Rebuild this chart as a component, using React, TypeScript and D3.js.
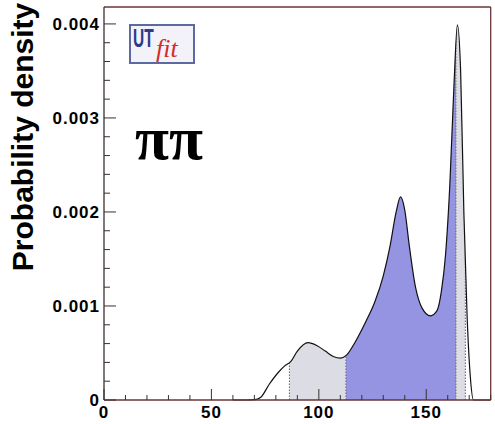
import React from "react";
import * as d3 from "d3";

const xValues = [60, 66, 70, 73, 77, 81, 84, 87, 90, 95, 99, 103, 107, 110, 113, 117, 122, 126, 130, 133, 136, 138, 140, 142, 145, 148, 152, 155, 157, 159, 161, 163, 164.5, 166, 167.5, 169, 170.5, 172, 180];
const densityValues = [0, 0, 0.000003, 0.00003, 0.00017, 0.00029, 0.00036, 0.00041, 0.00052, 0.00061, 0.00058, 0.00052, 0.00046, 0.000445, 0.00048, 0.00062, 0.00084, 0.00104, 0.00132, 0.00162, 0.002, 0.00216, 0.00202, 0.00166, 0.0012, 0.00098, 0.000895, 0.00095, 0.00115, 0.00155, 0.0023, 0.0034, 0.00399, 0.0035, 0.002, 0.0009, 0.00025, 0, 0];
const grayRegions = [[86.3, 112.6], [163.8, 168.2]];
const blueRegion = [112.6, 163.8];
const regionEdges = [86.3, 112.6, 163.8, 168.2];
const xMajorTicks = [0, 50, 100, 150];
const yMajorTicks = [0, 0.001, 0.002, 0.003, 0.004];
const yTickLabels = ["0", "0.001", "0.002", "0.003", "0.004"];

const W = 495, H = 424;
const L = 104, R = 490.7, T = 7, B = 400;

export default function App() {
  const x = d3.scaleLinear().domain([0, 180]).range([L, R]);
  const y = d3.scaleLinear().domain([0, 0.00418]).range([B, T]);
  const pts = xValues.map((v, i) => [v, densityValues[i]] as [number, number]);
  const line = d3.line<[number, number]>().x(d => x(d[0])).y(d => y(d[1])).curve(d3.curveMonotoneX);
  const area = d3.area<[number, number]>().x(d => x(d[0])).y0(y(0)).y1(d => y(d[1])).curve(d3.curveMonotoneX);
  const areaPath = area(pts) || "";
  const xMinor = d3.range(0, 181, 10);
  const yMinor = d3.range(0, 0.00418, 0.0002);
  const font = "'Liberation Sans', Arial, Helvetica, sans-serif";
  const frame = "#6a3434";
  const axisCol = "#3a3030";

  return (
    <svg width={W} height={H} style={{ position: "absolute", left: 0, top: 0, background: "#fff" }}>
      <defs>
        <clipPath id="under"><path d={areaPath} /></clipPath>
        <clipPath id="blueClip">
          <rect x={x(blueRegion[0])} y={T} width={x(blueRegion[1]) - x(blueRegion[0])} height={B - T} />
        </clipPath>
        <clipPath id="grayClip">
          {grayRegions.map((r, i) => (
            <rect key={i} x={x(r[0])} y={T} width={x(r[1]) - x(r[0])} height={B - T} />
          ))}
        </clipPath>
      </defs>
      <rect x={0} y={0} width={W} height={H} fill="#fff" />
      <path d={areaPath} fill="#dcdce5" clipPath="url(#grayClip)" />
      <path d={areaPath} fill="#9494e2" clipPath="url(#blueClip)" />
      <g clipPath="url(#under)">
        {regionEdges.map((e, i) => (
          <line key={i} x1={x(e)} x2={x(e)} y1={B} y2={T} stroke="#666" strokeWidth={1} strokeDasharray="1.5,1.5" />
        ))}
      </g>
      <path d={line(pts) || ""} fill="none" stroke="#111" strokeWidth={1.2} />
      {/* frame */}
      <line x1={L} x2={R} y1={T} y2={T} stroke={frame} strokeWidth={1.3} />
      <line x1={R} x2={R} y1={T} y2={B} stroke={frame} strokeWidth={1.3} />
      <line x1={L} x2={R} y1={B} y2={B} stroke={frame} strokeWidth={1.3} />
      <line x1={L} x2={L} y1={T} y2={B} stroke={axisCol} strokeWidth={1.3} />
      {/* x ticks */}
      {xMinor.map(t => (
        <line key={"xm" + t} x1={x(t)} x2={x(t)} y1={B} y2={B - (t % 50 === 0 ? 11 : 5)} stroke={axisCol} strokeWidth={1} />
      ))}
      {xMajorTicks.map(t => (
        <text key={"xl" + t} x={x(t)} y={418} textAnchor="middle" fontFamily={font} fontWeight="bold" fontSize={17} letterSpacing={1}>{t}</text>
      ))}
      {/* y ticks */}
      {yMinor.map((t, i) => (
        <line key={"ym" + i} x1={L} x2={L + (i % 5 === 0 ? 12 : 6)} y1={y(t)} y2={y(t)} stroke={axisCol} strokeWidth={1} />
      ))}
      {yMajorTicks.map((t, i) => (
        <text key={"yl" + i} x={100} y={y(t) + 6} textAnchor="end" fontFamily={font} fontWeight="bold" fontSize={17} letterSpacing={1}>{yTickLabels[i]}</text>
      ))}
      <text transform="translate(33,137) rotate(-90)" textAnchor="middle" fontFamily={font} fontWeight="bold" fontSize={30}>Probability density</text>
      {/* logo */}
      <rect x={130} y={25} width={64} height={38} fill="#f2f2f8" stroke="#5c6aa2" strokeWidth={2} />
      <text transform="translate(133,47) scale(0.62,1)" x={0} y={0} fontFamily={font} fontWeight="bold" fontSize={25} fill="#2b3a8f">UT</text>
      <text x={156} y={57} fontFamily="'Liberation Serif', 'DejaVu Serif', serif" fontStyle="italic" fontSize={26} fill="#d42a2a">fit</text>
      {/* pi pi */}
      <text x={135} y={159} fontFamily="'Liberation Serif', 'DejaVu Serif', serif" fontWeight="bold" fontSize={62}>ππ</text>
    </svg>
  );
}
